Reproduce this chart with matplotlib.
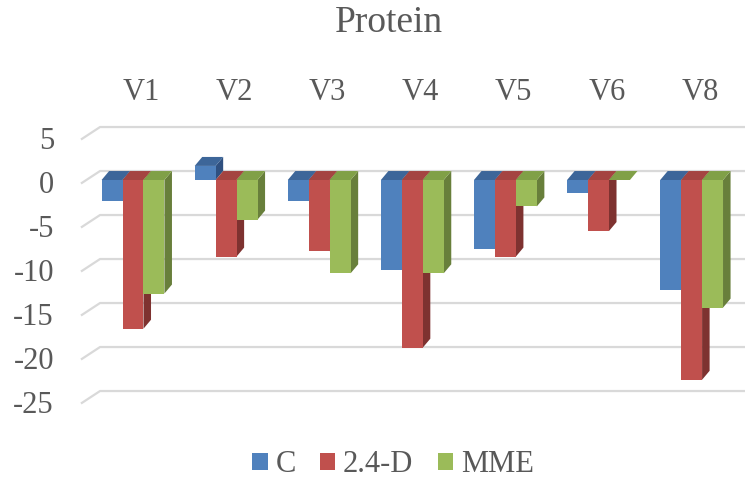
import matplotlib
matplotlib.use("Agg")
import matplotlib.pyplot as plt
from matplotlib.patches import Polygon, Patch

# datos
categorias = ["V1", "V2", "V3", "V4", "V5", "V6", "V8"]
series = ["C", "2.4-D", "MME"]
val_c = [-2.35, 1.6, -2.35, -10.2, -7.8, -1.5, -12.5]
val_d = [-16.9, -8.7, -8.1, -19.05, -8.7, -5.8, -22.7]
val_mme = [-12.9, -4.5, -10.6, -10.6, -3.0, 0.0, -14.5]
yticks = [5, 0, -5, -10, -15, -20, -25]

valores = [val_c, val_d, val_mme]
frente = ["#4F81BD", "#C0504D", "#9BBB59"]
arriba = ["#3D6699", "#A44441", "#80A047"]
lado = ["#2F5080", "#7E3230", "#687F3B"]
gris = "#595959"

plt.rcParams["font.family"] = ["Liberation Serif", "DejaVu Serif"]

fig = plt.figure(figsize=(7.45, 4.82), dpi=100)
ax = fig.add_axes([0, 0, 1, 1])
# escala: 93.1 px por categoria, 8.8 px por unidad
ax.set_xlim(-133 / 93.1, (745 - 133) / 93.1)
ax.set_ylim((180 - 482) / 8.8, 180 / 8.8)
ax.axis("off")

w = 0.225     # ancho de barra
dx = 0.081    # profundidad en x
dy = 1.02     # profundidad en y

# lineas de la cuadricula (pared del fondo + esquina)
for v in yticks:
    ax.plot([-0.559, -0.354, 7.0], [v - 0.40, v + dy, v + dy],
            color="#D9D9D9", lw=1.6, zorder=1, solid_capstyle="butt")
    ax.text(-0.849, v - 0.57, str(v), ha="right", va="center",
            fontsize=22, color=gris)

for s, vals in enumerate(valores):
    off = (s - 1) * w
    zb = 2 + s * 3
    for i, v in enumerate(vals):
        x0 = i + off - w / 2
        x1 = x0 + w
        t = max(v, 0)
        ax.add_patch(Polygon([(x1, 0), (x1 + dx, dy), (x1 + dx, v + dy), (x1, v)],
                             closed=True, fc=lado[s], ec="none", zorder=zb))
        ax.add_patch(Polygon([(x0, t), (x1, t), (x1 + dx, t + dy), (x0 + dx, t + dy)],
                             closed=True, fc=arriba[s], ec="none", zorder=zb + 1))
    ax.bar([i + off for i in range(len(vals))], vals, width=w,
           color=frente[s], zorder=zb + 2)

for i, c in enumerate(categorias):
    ax.text(i + 0.09, 10.0, c, ha="center", va="center", fontsize=22, color=gris)

fig.text(389 / 745, 1 - 23 / 482, "Protein", ha="center", va="center",
         fontsize=27, color=gris)

manijas = [Patch(fc=frente[s], ec="none") for s in range(3)]
ley = ax.legend(manijas, series, loc="center", ncol=3, frameon=False,
                bbox_to_anchor=(393 / 745, 1 - 465 / 482), fontsize=22,
                handlelength=0.5, handleheight=0.5, handletextpad=0.25,
                columnspacing=0.8, borderpad=0)
for tx in ley.get_texts():
    tx.set_color(gris)

fig.savefig("out.png", dpi=100)
